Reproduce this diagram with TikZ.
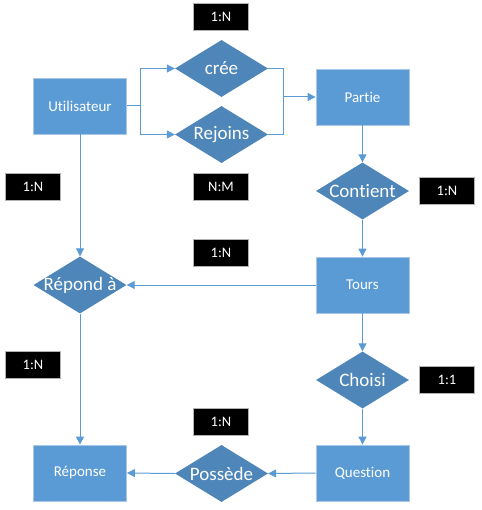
\documentclass[tikz,border=0pt]{standalone}
\usepackage{fontspec}
\setmainfont{Carlito}[Ligatures=NoCommon]
\usetikzlibrary{arrows.meta, shapes.geometric, calc}
\definecolor{bleu}{HTML}{5B9BD5}
\definecolor{bleufonce}{HTML}{4E86B9}
\definecolor{bleuclair}{HTML}{A9C8E8}

\begin{document}
\begin{tikzpicture}[x=1pt, y=-1pt,
  entite/.style = {rectangle, fill=bleu, draw=bleuclair, line width=.8pt, minimum width=93pt, minimum height=56pt, text=white, font=\fontsize{15}{17}\selectfont},
  relation/.style = {diamond, fill=bleufonce, minimum width=93pt, minimum height=57pt, inner sep=0pt},
  reltexte/.style = {text=white, font=\fontsize{19}{21}\selectfont},
  card/.style = {rectangle, fill=black, draw=gray!60, line width=.8pt, minimum width=55pt, minimum height=27pt, text=white, font=\fontsize{14.5}{16}\selectfont},
  lien/.style = {draw=bleu, line width=1pt},
  fleche/.style = {lien, -{Triangle[length=8pt, width=8pt]}}]
\useasboundingbox (0,0) rectangle (481,510);

% entites
\node[entite] (util) at (80,106) {Utilisateur};
\node[entite] (partie) at (362.5,97) {Partie};
\node[entite] (tours) at (362.5,285) {Tours};
\node[entite] (question) at (362.5,473) {Question};
\node[entite] (reponse) at (80,473) {Réponse};

% relations
\node[relation, label={[reltexte]center:crée}] (cree) at (221.5,68.5) {};
\node[relation, label={[reltexte]center:Rejoins}] (rejoins) at (221.5,134.5) {};
\node[relation, label={[reltexte]center:Contient}] (contient) at (362.5,191) {};
\node[relation, label={[reltexte]center:Répond à}] (repond) at (80,285) {};
\node[relation, label={[reltexte]center:Choisi}] (choisi) at (362.5,380) {};
\node[relation, label={[reltexte]center:Possède}] (possede) at (221.5,473.5) {};

% cardinalites
\node[card] (c1) at (221,17) {1:N};
\node[card] (c2) at (221,186.5) {N:M};
\node[card] (c3) at (33,186.5) {1:N};
\node[card] (c4) at (447,191) {1:N};
\node[card] (c5) at (221,252.5) {1:N};
\node[card] (c6) at (33,365) {1:N};
\node[card] (c7) at (447,380) {1:1};
\node[card] (c8) at (221,422) {1:N};

% liens
\coordinate (g) at ($(util.east)+(14,0)$);
\coordinate (d) at ($(cree.east)+(15,0)$);
\draw[lien] (util.east) -- (g);
\draw[fleche] (g) |- (cree.west);
\draw[fleche] (g) |- (rejoins.west);
\draw[lien] (cree.east) -| (d) |- (rejoins.east);
\draw[fleche] (d |- partie.west) -- (partie.west);
\draw[fleche] (partie.south) -- (contient.north);
\draw[fleche] (contient.south) -- (tours.north);
\draw[fleche] (tours.west) -- (repond.east);
\draw[fleche] (util.south) -- (repond.north);
\draw[fleche] (repond.south) -- (reponse.north);
\draw[fleche] (tours.south) -- (choisi.north);
\draw[fleche] (choisi.south) -- (question.north);
\draw[fleche] (question.west) -- (possede.east);
\draw[fleche] (possede.west) -- (reponse.east);
\end{tikzpicture}
\end{document}
